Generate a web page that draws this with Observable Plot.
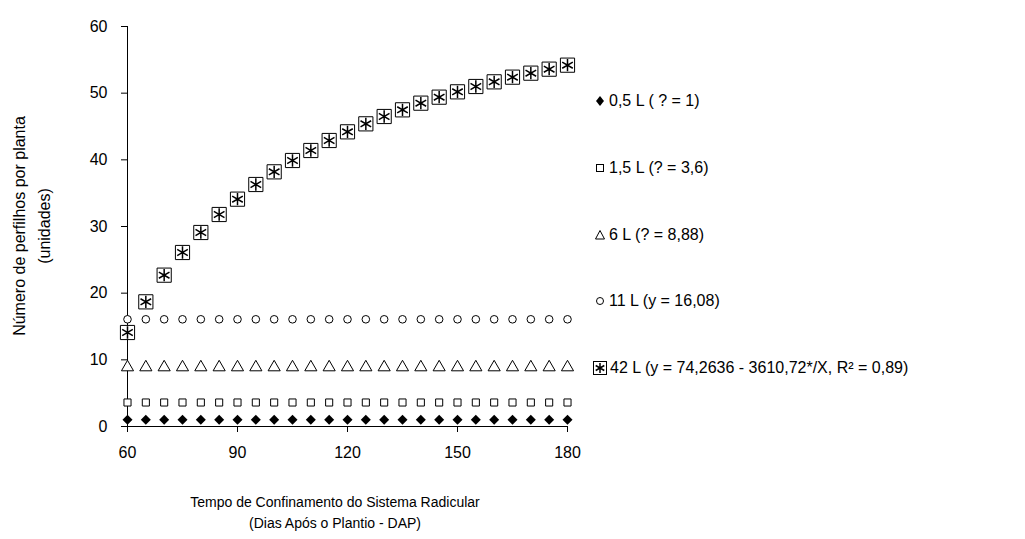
<!DOCTYPE html>
<html><head><meta charset="utf-8">
<script src="https://cdn.jsdelivr.net/npm/d3@7"></script>
<script src="https://cdn.jsdelivr.net/npm/@observablehq/plot@0.6"></script>
<style>
body{margin:0;background:#fff;font-family:"Liberation Sans",Arial,sans-serif;}
#wrap{position:relative;width:1025px;height:539px;}
.lab{position:absolute;font-size:16px;color:#000;white-space:nowrap;}
.leg{position:absolute;font-size:16px;white-space:nowrap;display:flex;align-items:center;}
.leg svg{margin-right:3px;}
</style></head><body>
<div id="wrap"><div id="chart"></div></div>
<script>
const dias = d3.range(60, 181, 5);
const y05 = dias.map(() => 1);
const y15 = dias.map(() => 3.6);
const y6 = dias.map(() => 8.88);
const y11 = dias.map(() => 16.08);
const y42 = [14.1, 18.7, 22.7, 26.1, 29.1, 31.8, 34.1, 36.3, 38.2, 39.9, 41.4, 42.9, 44.2, 45.4, 46.5, 47.5, 48.5, 49.4, 50.2, 51.0, 51.7, 52.4, 53.0, 53.6, 54.2];
const legendas = ["0,5 L ( ? = 1)", "1,5 L (? = 3,6)", "6 L (? = 8,88)", "11 L (y = 16,08)", "42 L (y = 74,2636 - 3610,72*/X, R² = 0,89)"];

const rows = (ys) => dias.map((d, i) => ({x: d, y: ys[i]}));

const chart = Plot.plot({
  width: 1025, height: 539,
  marginLeft: 127, marginRight: 458, marginTop: 26, marginBottom: 113,
  style: {fontFamily: "Liberation Sans, Arial, sans-serif", fontSize: "16px", color: "#000"},
  x: {domain: [60, 180], label: null},
  y: {domain: [0, 60], label: null},
  marks: [
    Plot.axisX({ticks: [60, 90, 120, 150, 180], tickSize: 6, tickPadding: 14, stroke: "#000", label: null}),
    Plot.axisY({ticks: d3.range(0, 61, 10), tickSize: 6, tickPadding: 14, stroke: "#000", label: null}),
    Plot.ruleX([60], {stroke: "#000"}),
    Plot.ruleY([0], {stroke: "#000"}),
    Plot.dot(rows(y05), {x: "x", y: "y", symbol: "diamond2", fill: "#000", r: 4.5}),
    Plot.dot(rows(y15), {x: "x", y: "y", symbol: "square", stroke: "#000", fill: "#fff", r: 4, strokeWidth: 1}),
    Plot.dot(rows(y6), {x: "x", y: "y", symbol: "triangle", stroke: "#000", fill: "#fff", r: 4.5, strokeWidth: 1}),
    Plot.dot(rows(y11), {x: "x", y: "y", symbol: "circle", stroke: "#000", fill: "#fff", r: 3.8, strokeWidth: 1}),
    Plot.dot(rows(y42), {x: "x", y: "y", symbol: "square", stroke: "#000", fill: "#fff", r: 8, strokeWidth: 1}),
    Plot.dot(rows(y42), {x: "x", y: "y", symbol: "asterisk", stroke: "#000", r: 5.8, strokeWidth: 1.5})
  ]
});
d3.select('#chart').append(() => chart);

const wrap = d3.select('#wrap');
wrap.append('div').attr('class', 'lab')
  .style('left', '0px').style('top', '226px')
  .style('transform', 'translate(-50%,0) rotate(-90deg)').style('transform-origin', 'center')
  .style('text-align', 'center').style('line-height', '25px')
  .style('margin-left', '32px').style('margin-top', '-25px')
  .html('Número de perfilhos por planta<br>(unidades)');
wrap.append('div').attr('class', 'lab')
  .style('left', '335px').style('top', '492px').style('transform', 'translateX(-50%)')
  .style('text-align', 'center').style('font-size', '14px').style('line-height', '21px')
  .html('Tempo de Confinamento do Sistema Radicular<br>(Dias Após o Plantio - DAP)');

const simbolos = [
  '<polygon points="6,2 10,7 6,12 2,7" fill="#000"/>',
  '<rect x="2.5" y="3.5" width="7" height="7" fill="none" stroke="#000"/>',
  '<polygon points="6,2.5 10.5,11 1.5,11" fill="none" stroke="#000"/>',
  '<circle cx="6" cy="7" r="3.5" fill="none" stroke="#000"/>',
  '<rect x="0.5" y="0.5" width="13" height="13" fill="none" stroke="#000"/><path d="M7,2V12M2.7,4.5L11.3,9.5M2.7,9.5L11.3,4.5" stroke="#000" stroke-width="1.5"/>'
];
const ys = [102, 169, 236, 302, 369];
legendas.forEach((t, i) => {
  const w = i === 4 ? 14 : 12;
  wrap.append('div').attr('class', 'leg')
    .style('left', (i === 4 ? 593 : 594) + 'px').style('top', (ys[i] - 10) + 'px')
    .html(`<svg width="${w}" height="14">${simbolos[i]}</svg><span>${t}</span>`);
});
</script>
</body></html>
